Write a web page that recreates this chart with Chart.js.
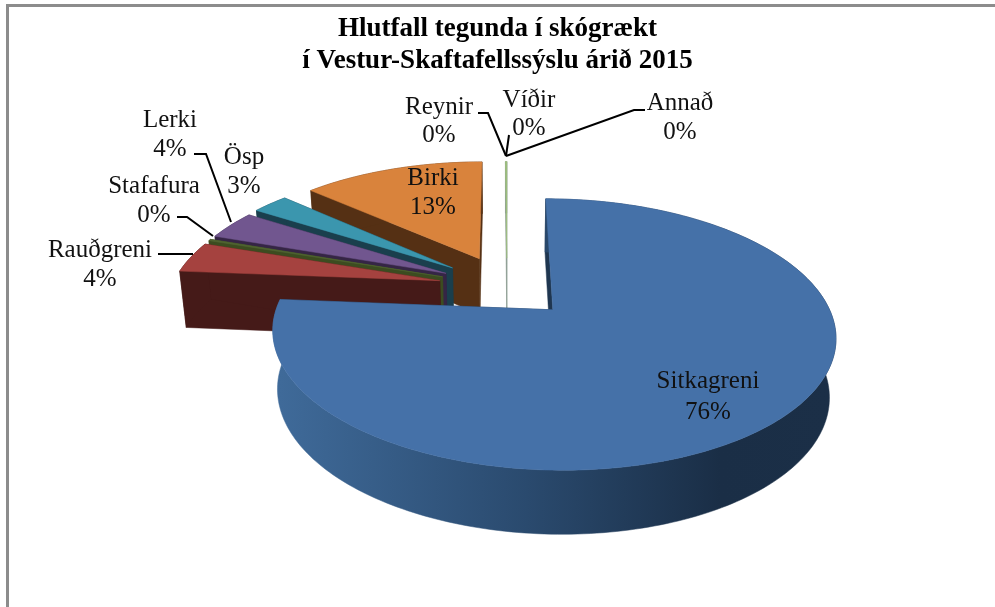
<!DOCTYPE html>
<html>
<head>
<meta charset="utf-8">
<script src="https://cdn.jsdelivr.net/npm/chart.js@4/dist/chart.umd.js"></script>
<style>
  body { margin: 0; background: #fff; }
  #frame { position: absolute; left: 6px; top: 4px; width: 995px; height: 603px; border-left: 3px solid #8c8c8c; border-top: 3px solid #8c8c8c; }
  #myPie { position: absolute; left: 0; top: 0; }
</style>
</head>
<body>
<div id="frame"></div>
<canvas id="myPie" width="995" height="607"></canvas>
<script>
// データ
const titleLines = ['Hlutfall tegunda í skógrækt', 'í Vestur-Skaftafellssýslu árið 2015'];
const categories = ['Sitkagreni', 'Rauðgreni', 'Stafafura', 'Lerki', 'Ösp', 'Birki', 'Reynir', 'Víðir', 'Annað'];
const values = [76.2, 3.9, 0.2, 3.7, 2.6, 13.2, 0, 0.1, 0];

// 色
const topColors = ['#4571a8', '#a5423f', '#4f6330', '#71568f', '#3b96ae', '#d9833c', '#c8c8c8', '#9fc27a', '#cccccc'];
const wallColors = ['#1f3650', '#451a18', '#3c4c20', '#352545', '#1a3f4d', '#553014', '#888888', '#8a9a90', '#888888'];

// ラベルの位置 [中心x, 1行目y, 2行目y]
const labelPos = [[708, 381, 412], [100, 250, 279], [154, 186, 215], [170, 120, 149], [244, 157, 186],
                  [433, 178, 207], [439, 107, 135], [529, 100, 128], [680, 103, 132]];
// 引き出し線
const leaders = [
  [[158, 254], [193, 254]],
  [[177, 217], [187, 217], [213, 236]],
  [[194, 154], [206, 154], [231, 222]],
  [[478, 113], [488, 113], [506, 156]],
  [[506, 156], [509, 135]],
  [[506, 156], [634, 110], [645, 110]]
];

// 3D風に見せるための投影
const X0 = 507, Y0 = 287, RX = 268, RY = 123, PERSP = 0.1765, DEPTH = 57;

function project(u, v, z) {
  const s = 1 / (1 - PERSP * v);
  let x = X0 + u * RX * s;
  let y = Y0 + v * RY * s;
  x = X0 + (x - X0) * (1 - 0.02 * z);
  y += z * DEPTH * Math.sqrt(s);
  return [x, y];
}

function fillPoly(ctx, pts, style) {
  ctx.beginPath();
  pts.forEach((p, i) => i ? ctx.lineTo(p[0], p[1]) : ctx.moveTo(p[0], p[1]));
  ctx.closePath();
  ctx.fillStyle = style;
  ctx.strokeStyle = style;
  ctx.lineWidth = 0.5;
  ctx.fill();
  ctx.stroke();
}

// arc要素の角度と半径をそのまま使って立体を描く
function drawSlice(ctx, arc, i) {
  const R = arc.outerRadius;
  const mid = (arc.startAngle + arc.endAngle) / 2;
  const off = arc.options.offset / R;
  const ou = Math.cos(mid) * off, ov = Math.sin(mid) * off;
  const n = Math.max(2, Math.ceil((arc.endAngle - arc.startAngle) / 0.02));
  const rim = [], rimLow = [];
  for (let k = 0; k <= n; k++) {
    const a = arc.startAngle + (arc.endAngle - arc.startAngle) * k / n;
    rim.push(project(ou + Math.cos(a), ov + Math.sin(a), 0));
    rimLow.push(project(ou + Math.cos(a), ov + Math.sin(a), 1));
  }
  const apex = project(ou, ov, 0), apexLow = project(ou, ov, 1);

  // 切り口の壁
  fillPoly(ctx, [apex, rim[0], rimLow[0], apexLow], wallColors[i]);
  fillPoly(ctx, [apex, rim[n], rimLow[n], apexLow], wallColors[i]);

  // 外周の壁（シトカだけグラデーション）
  let rimStyle = wallColors[i];
  if (i === 0) {
    rimStyle = ctx.createLinearGradient(280, 0, 830, 0);
    rimStyle.addColorStop(0, '#3f6a99');
    rimStyle.addColorStop(0.45, '#2a4a6e');
    rimStyle.addColorStop(0.8, '#1a2e46');
    rimStyle.addColorStop(1, '#1b2f47');
  }
  fillPoly(ctx, rim.concat(rimLow.slice().reverse()), rimStyle);

  // 上面
  fillPoly(ctx, [apex].concat(rim), arc.options.backgroundColor);
}

const pie3d = {
  id: 'pie3d',
  beforeDatasetsDraw(chart) {
    const ctx = chart.ctx;
    const arcs = chart.getDatasetMeta(0).data;
    const total = values.reduce((a, b) => a + b, 0);
    ctx.save();
    // 奥のスライスから順番に
    for (let i = arcs.length - 1; i >= 0; i--) {
      if (values[i] > 0) drawSlice(ctx, arcs[i], i);
    }
    // 引き出し線
    ctx.strokeStyle = '#000';
    ctx.lineWidth = 2;
    leaders.forEach(line => {
      ctx.beginPath();
      line.forEach((p, i) => i ? ctx.lineTo(p[0], p[1]) : ctx.moveTo(p[0], p[1]));
      ctx.stroke();
    });
    // ラベル
    ctx.fillStyle = '#111';
    ctx.font = '25px "Liberation Serif"';
    ctx.textAlign = 'center';
    ctx.textBaseline = 'middle';
    categories.forEach((name, i) => {
      const pos = labelPos[i];
      ctx.fillText(name, pos[0], pos[1]);
      ctx.fillText(Math.round(values[i] / total * 100) + '%', pos[0], pos[2]);
    });
    ctx.restore();
    return false; // 標準の平面パイは描かない
  }
};

new Chart(document.getElementById('myPie'), {
  type: 'pie',
  data: {
    labels: categories,
    datasets: [{ data: values, backgroundColor: topColors, borderWidth: 0, offset: [52, 55, 55, 55, 56, 56, 52, 52, 52] }]
  },
  options: {
    responsive: false,
    animation: false,
    radius: 213,
    plugins: {
      legend: { display: false },
      tooltip: { enabled: false },
      title: {
        display: true,
        text: titleLines,
        color: '#000',
        font: { family: '"Liberation Serif"', size: 27, weight: 'bold', lineHeight: 1.15 },
        padding: { top: 14, bottom: 10 }
      }
    }
  },
  plugins: [pie3d]
});
</script>
</body>
</html>
